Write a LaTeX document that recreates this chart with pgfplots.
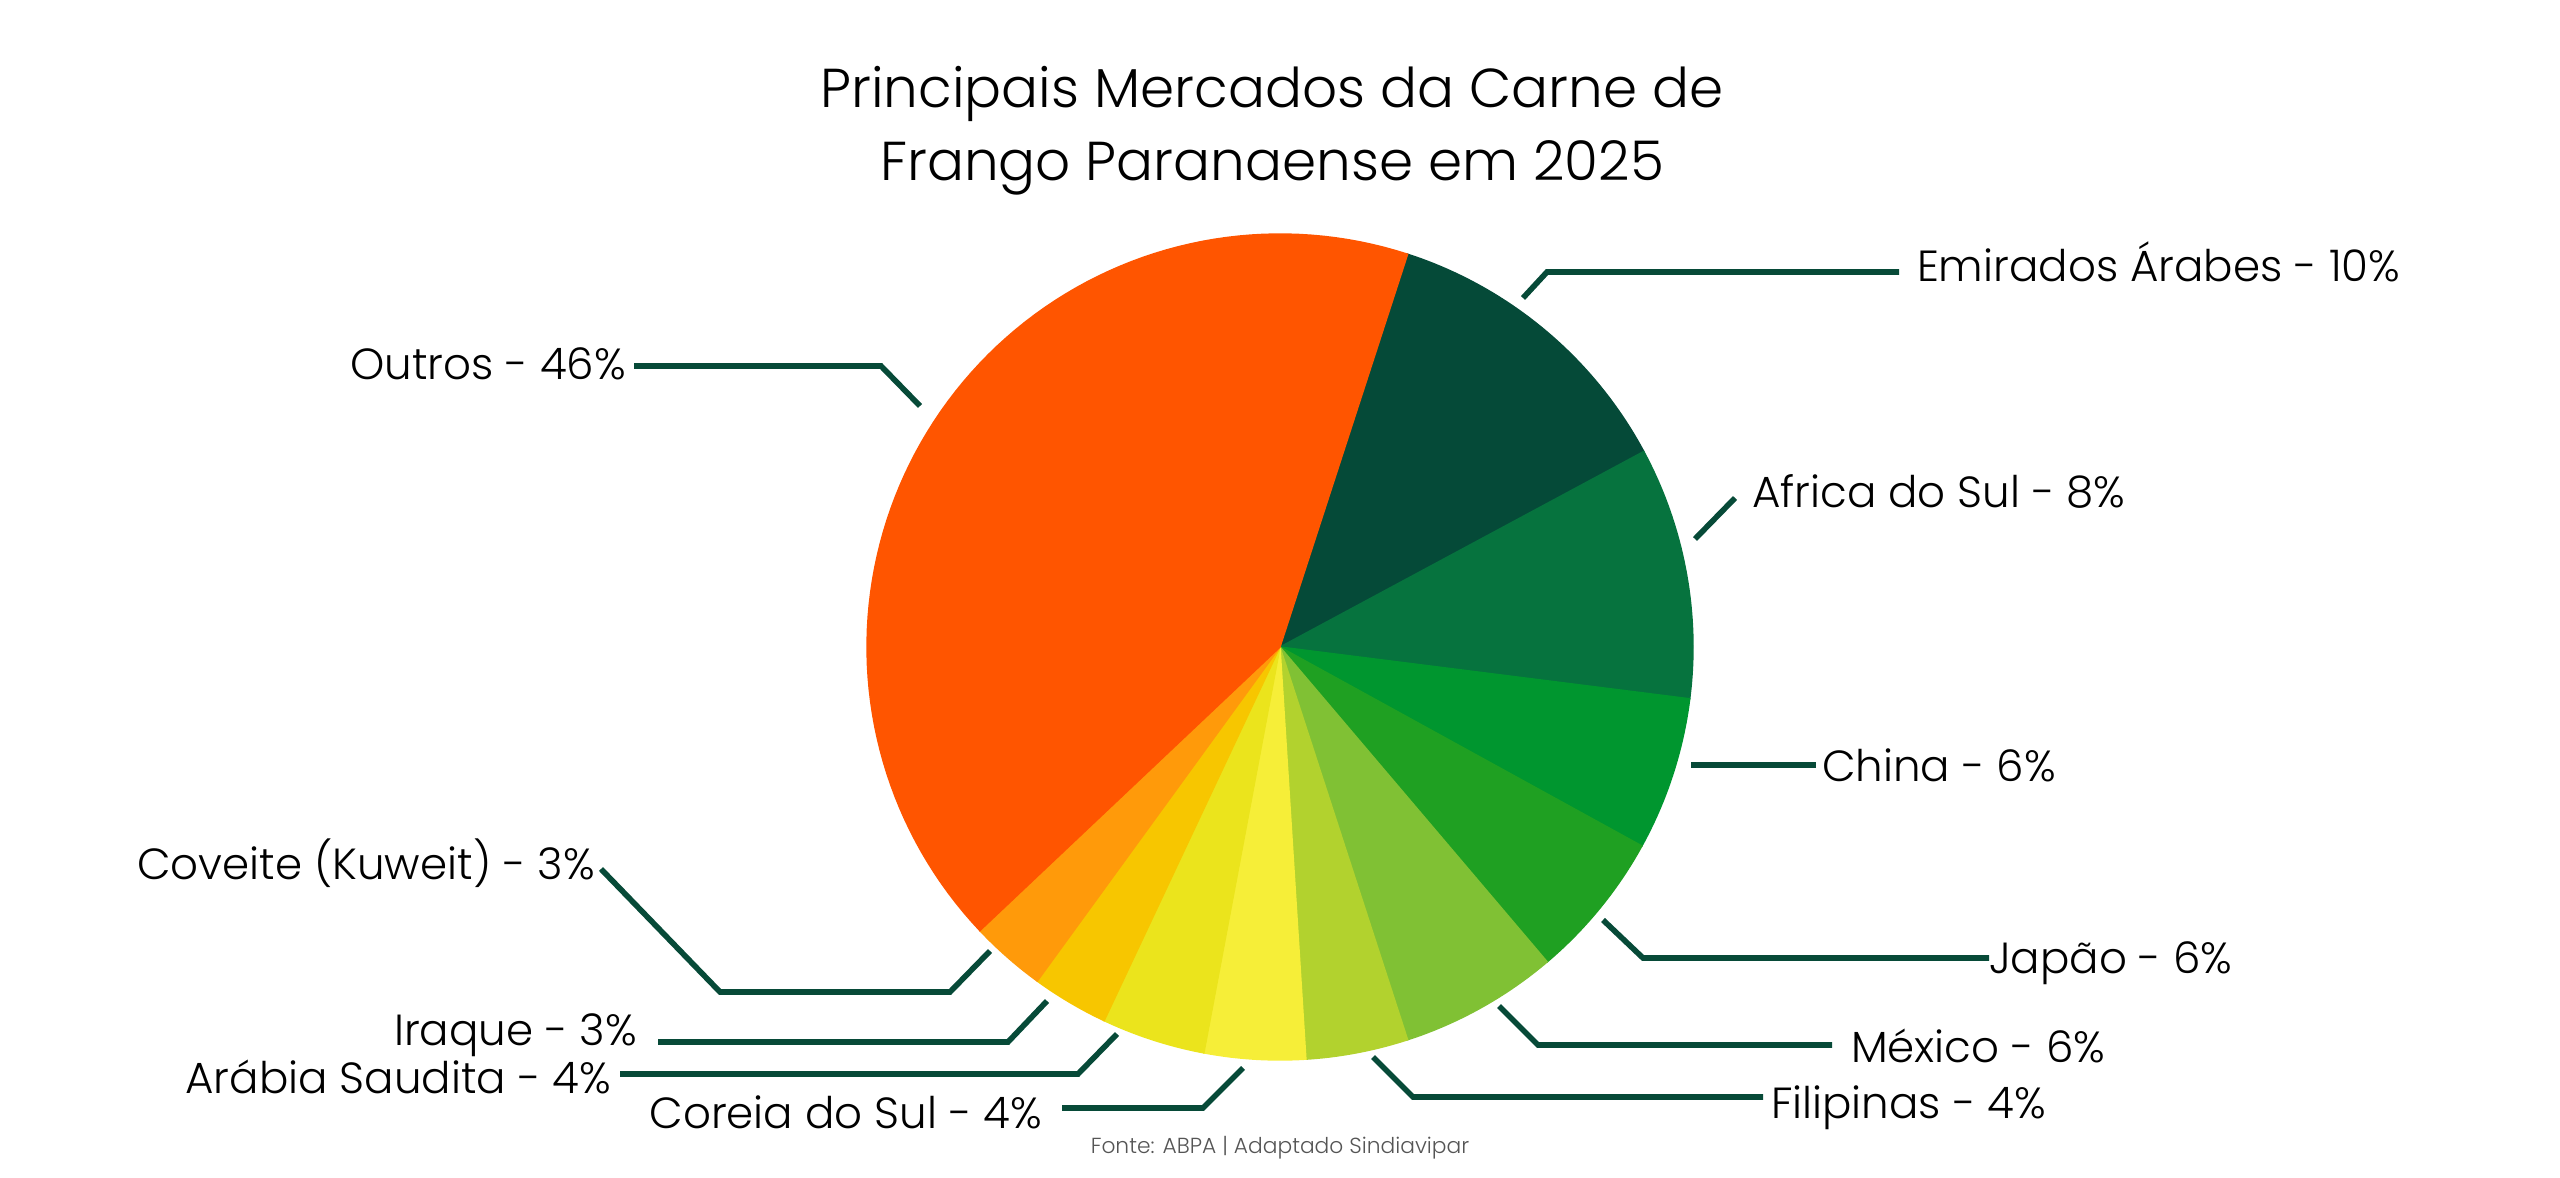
\documentclass[border=0pt]{standalone}
\usepackage{pgfplots}
\usepackage{pgfplotstable}
\pgfplotsset{compat=1.18}
\usepackage{fontspec}
\IfFontExistsTF{Poppins Light}{\setmainfont{Poppins Light}}{\setmainfont{Poppins}}

\definecolor{cEmi}{HTML}{054A38}
\definecolor{cAfr}{HTML}{06733E}
\definecolor{cChi}{HTML}{00962F}
\definecolor{cJap}{HTML}{1FA022}
\definecolor{cMex}{HTML}{80C134}
\definecolor{cFil}{HTML}{B2D22E}
\definecolor{cCor}{HTML}{F6EE38}
\definecolor{cAra}{HTML}{EBE41C}
\definecolor{cIra}{HTML}{F7C600}
\definecolor{cKuw}{HTML}{FF9A0A}
\definecolor{cOut}{HTML}{FF5500}
\definecolor{cLine}{HTML}{074A38}
\definecolor{cFoot}{HTML}{555555}

% share of each slice (percent, as drawn), clockwise from 72 deg
\pgfplotstableread{
name       share  col
Emirados   12.15  cEmi
Africa      9.85  cAfr
China       6.00  cChi
Japao       5.80  cJap
Mexico      6.20  cMex
Filipinas   4.00  cFil
Coreia      3.95  cCor
Arabia      4.05  cAra
Iraque      3.00  cIra
Coveite     2.95  cKuw
Outros     42.05  cOut
}\piedata

\begin{document}
\begin{tikzpicture}
\begin{axis}[
  scale only axis, width=25.6cm, height=11.77cm,
  xmin=-1280, xmax=1280, ymin=-530, ymax=647,
  hide axis, clip=false,
]
\coordinate (SW) at (axis cs:-1280,-530);
\coordinate (NE) at (axis cs:1280,647);

\def\cum{0}
\pgfplotsforeachungrouped \i in {0,...,10} {
  \pgfplotstablegetelem{\i}{share}\of\piedata \let\v\pgfplotsretval
  \pgfplotstablegetelem{\i}{col}\of\piedata \let\c\pgfplotsretval
  \pgfmathsetmacro\a{72-\cum*3.6}
  \pgfmathsetmacro\b{72-(\cum+\v)*3.6}
  \edef\tmp{\noexpand\addplot[fill=\c, draw=\c, line width=0.4pt, data cs=polar, domain=\b:\a, samples=90, forget plot] (x, 413) -- (axis cs:0,0) -- cycle;}
  \tmp
  \pgfmathsetmacro\cum{\cum+\v}
  \xdef\cum{\cum}
}

% leader lines
\begin{scope}[draw=cLine, line width=1.6pt, line join=miter, line cap=butt]
\draw (axis cs:-646,281) -- (axis cs:-399,281) -- (axis cs:-360,241);
\draw (axis cs:243,349) -- (axis cs:267,375) -- (axis cs:619,375);
\draw (axis cs:415,108) -- (axis cs:455,149);
\draw (axis cs:411,-118) -- (axis cs:536,-118);
\draw (axis cs:323,-273) -- (axis cs:363,-311) -- (axis cs:709,-311);
\draw (axis cs:219,-359) -- (axis cs:258,-398) -- (axis cs:552,-398);
\draw (axis cs:93,-410) -- (axis cs:133,-450) -- (axis cs:483,-450);
\draw (axis cs:-37,-421) -- (axis cs:-77,-461) -- (axis cs:-218,-461);
\draw (axis cs:-163,-387) -- (axis cs:-202,-427) -- (axis cs:-660,-427);
\draw (axis cs:-233,-354) -- (axis cs:-272,-395) -- (axis cs:-622,-395);
\draw (axis cs:-290,-304) -- (axis cs:-330,-345) -- (axis cs:-560,-345) -- (axis cs:-679,-222);
\end{scope}

% labels
\begin{scope}[every node/.style={inner sep=0pt, outer sep=0pt, font=\fontsize{12.4pt}{15pt}\selectfont}]
\node[anchor=base east] at (axis cs:-654,267) {Outros - 46\%};
\node[anchor=base west] at (axis cs:637,365) {Emirados Árabes - 10\%};
\node[anchor=base west] at (axis cs:472,139) {Africa do Sul - 8\%};
\node[anchor=base west] at (axis cs:542,-135) {China - 6\%};
\node[anchor=base west] at (axis cs:709,-326) {Japão - 6\%};
\node[anchor=base west] at (axis cs:571,-415) {México - 6\%};
\node[anchor=base west] at (axis cs:491,-471) {Filipinas - 4\%};
\node[anchor=base east] at (axis cs:-238,-481) {Coreia do Sul - 4\%};
\node[anchor=base east] at (axis cs:-669,-446) {Arábia Saudita - 4\%};
\node[anchor=base east] at (axis cs:-643,-398) {Iraque - 3\%};
\node[anchor=base east] at (axis cs:-685,-233) {Coveite (Kuweit) - 3\%};
\end{scope}

% title
\node[anchor=base, inner sep=0pt, font=\fontsize{15.6pt}{18pt}\selectfont] at (axis cs:-8,539) {Principais Mercados da Carne de};
\node[anchor=base, inner sep=0pt, font=\fontsize{15.6pt}{18pt}\selectfont] at (axis cs:-8,466) {Frango Paranaense em 2025};

% source
\node[anchor=base, inner sep=0pt, text=cFoot, font=\fontsize{6.2pt}{8pt}\selectfont] at (axis cs:0,-506) {Fonte: ABPA | Adaptado Sindiavipar};
\end{axis}
\pgfresetboundingbox
\useasboundingbox (SW) rectangle (NE);
\end{tikzpicture}
\end{document}
